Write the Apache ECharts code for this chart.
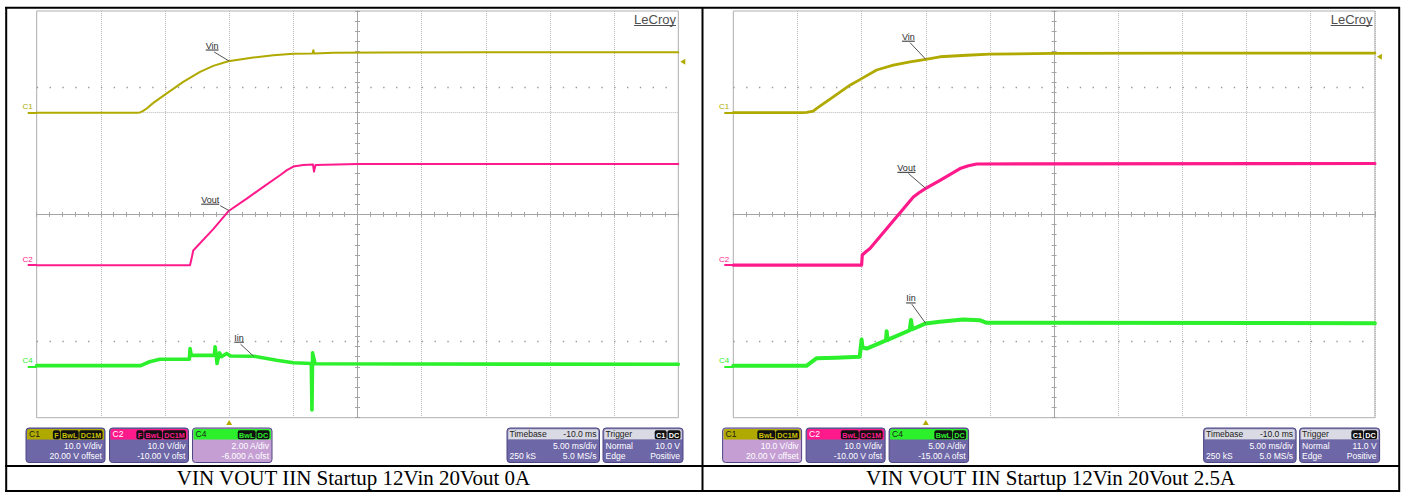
<!DOCTYPE html>
<html>
<head>
<meta charset="utf-8">
<title>VIN VOUT IIN Startup</title>
<script src="https://cdn.jsdelivr.net/npm/echarts@6.0.0/dist/echarts.min.js"></script>
<style>
html,body{margin:0;padding:0;background:#ffffff;}
#chart{width:1405px;height:493px;}
</style>
</head>
<body>
<div id="chart"></div>
<script>
// ================= DATA (read from the two scope captures) =================
// Time axis: delay -10 ms, 5 ms/div, 10 divisions -> -15 .. 35 ms
const timeMin = -15;
const timeMax = 35;
const timeDiv = 5;

const channelNames = ['C1', 'C2', 'C4'];
const traceNames = ['Vin', 'Vout', 'Iin'];

// ---- Capture A: 12Vin 20Vout 0A  ([time ms, value]) ----
const vinA = [[-15,0],[-7.2,0],[-6.95,0.05],[-6.7,0.35],[-6.43,0.83],[-5.91,1.93],[-5.06,3.45],[-3.58,6.06],[-2.27,8.03],[-1.24,9.2],[-0.07,10.13],[1.88,10.86],[3.44,11.31],[5.0,11.57],[6.5,11.65],[6.56,12.3],[6.62,11.65],[8.11,11.77],[12,11.85],[20,11.9],[35,11.9]];
const voutA = [[-15,0],[-3.05,0],[-2.94,1.2],[-2.8,2.9],[-1.24,7.1],[-0.07,10.6],[1.37,13.1],[2.66,15.4],[3.96,17.7],[4.5,18.7],[5.0,19.4],[5.78,19.7],[6.53,19.8],[6.61,18.4],[6.73,19.7],[10,19.9],[35,19.9]];
const iinA = [[-15,0.05],[-6.9,0.05],[-6.2,0.2],[-5.4,0.3],[-3.1,0.3],[-3.05,0.72],[-2.95,0.45],[-1.15,0.45],[-1.1,0.79],[-1.0,0.45],[-0.95,0.13],[-0.75,0.55],[-0.6,0.4],[-0.2,0.53],[0.1,0.43],[1.9,0.42],[3.7,0.26],[5.0,0.16],[6.4,0.13],[6.45,-1.7],[6.5,0.55],[6.7,0.12],[35,0.1]];

// ---- Capture B: 12Vin 20Vout 2.5A ----
const vinB = [[-15,0],[-9.6,0],[-9.28,0.05],[-8.77,0.3],[-8.5,0.83],[-7.21,3.1],[-5.91,5.4],[-5.0,6.7],[-3.83,8.4],[-2.53,9.35],[-1.23,10.0],[0,10.5],[1.11,11.0],[3.19,11.3],[5,11.5],[10,11.65],[20,11.7],[35,11.7]];
const voutB = [[-15,0],[-5.0,0],[-4.95,2.0],[-4.6,2.8],[-4.35,3.3],[-0.97,13.4],[-0.5,14.3],[0,15.1],[1.11,16.7],[2.67,19.0],[3.32,19.55],[3.97,19.9],[35,20.0]];
const iinB = [[-15,0.1],[-9.3,0.1],[-8.5,0.85],[-7,0.9],[-5.15,1.0],[-5.0,2.7],[-4.93,1.9],[-4.6,1.8],[-3.1,2.6],[-3.05,3.5],[-2.98,2.65],[-1.25,3.6],[-1.15,4.6],[-1.05,3.7],[0,4.27],[1.1,4.43],[2.9,4.66],[4.2,4.59],[4.75,4.33],[35,4.3]];

// channel settings (units/div, offset)
const perDivA = [10, 10, 2];
const offsetA = [20, -10, -6];
const perDivB = [10, 10, 5];
const offsetB = [20, -10, -15];
const triggerLevelA = 10;
const triggerLevelB = 11;

// label anchor times (ms) for Vin / Vout / Iin call-outs
const labelTimesA = [0, 0, 1.9];
const labelTimesB = [0, 0, 0];

// info-box texts
const chanLine1A = ['10.0 V/div', '10.0 V/div', '2.00 A/div'];
const chanLine2A = ['20.00 V offset', '-10.00 V ofst', '-6.000 A ofst'];
const chanLine1B = ['10.0 V/div', '10.0 V/div', '5.00 A/div'];
const chanLine2B = ['20.00 V offset', '-10.00 V ofst', '-15.00 A ofst'];
const badgesA = [['F', 'BwL', 'DC1M'], ['F', 'BwL', 'DC1M'], ['BwL', 'DC']];
const badgesB = [['BwL', 'DC1M'], ['BwL', 'DC1M'], ['BwL', 'DC']];
const timebaseTexts = ['Timebase', '-10.0 ms', '5.00 ms/div', '250 kS', '5.0 MS/s'];
const triggerTextsA = ['Trigger', 'Normal', '10.0 V', 'Edge', 'Positive'];
const triggerTextsB = ['Trigger', 'Normal', '11.0 V', 'Edge', 'Positive'];
const triggerBadges = ['C1', 'DC'];
const logoText = 'LeCroy';
const captionA = 'VIN VOUT IIN Startup 12Vin 20Vout 0A';
const captionB = 'VIN VOUT IIN Startup 12Vin 20Vout 2.5A';

// ================= STYLE / LAYOUT =================
const GRID_TOP = 11, GRID_H = 406.7, GRID_W = 641.6;
const PANEL_LEFT = [36.7, 733.3];
const PANEL_DX = [0, 696.6];
const CAPTION_CX = [353.5, 1050.5];
const TRACE_COLORS = ['#b0aa00', '#ff1a8c', '#2cf02c'];
const TRACE_WIDTHS = [[2, 2, 3.6], [2.8, 3.2, 4]];
const GRID_COLOR = '#b9b9b9';
const CENTER_COLOR = '#a4a4a4';
const SANS = '"Liberation Sans", Arial, sans-serif';
const LABEL_TEXT_OFF = [[[-17,-15.5],[-19,-11],[-14.5,-18.5]], [[-17.4,-22.6],[-19.4,-20.6],[-14.9,-25]]];
const LABEL_LEAD_OFF = [[[-15,-9],[-9,-5],[-13,-12]], [[-15.7,-16.6],[-17.4,-15],[-14,-19.3]]];

const captures = [
  {traces:[vinA, voutA, iinA], perDiv:perDivA, offset:offsetA, trig:triggerLevelA, labelTimes:labelTimesA,
   caption:captionA, line1:chanLine1A, line2:chanLine2A, badges:badgesA, selected:2, trigTexts:triggerTextsA},
  {traces:[vinB, voutB, iinB], perDiv:perDivB, offset:offsetB, trig:triggerLevelB, labelTimes:labelTimesB,
   caption:captionB, line1:chanLine1B, line2:chanLine2B, badges:badgesB, selected:0, trigTexts:triggerTextsB}
];

function centerAxis(g, otherIdx, inside, isX) {
  return {
    type:'value', gridIndex:g, position: isX ? 'bottom' : 'left',
    min: isX ? -5 : -4, max: isX ? 5 : 4, interval: 1, silent: true,
    axisLine:{show:true, onZero:true, onZeroAxisIndex:otherIdx, lineStyle:{color:CENTER_COLOR, width:1}},
    axisTick:{show:true, inside:inside, length:2.5, lineStyle:{color:CENTER_COLOR, width:1}},
    minorTick:{show:true, splitNumber:5, length:2.5, lineStyle:{color:CENTER_COLOR, width:1}},
    axisLabel:{show:false}, splitLine:{show:false}, minorSplitLine:{show:false}
  };
}

const option = {animation:false, backgroundColor:'#ffffff', grid:[], xAxis:[], yAxis:[], series:[]};

captures.forEach((cap, g) => {
  option.grid.push({left:PANEL_LEFT[g], top:GRID_TOP, width:GRID_W, height:GRID_H, show:true,
    borderColor:'#b0b0b0', borderWidth:1, backgroundColor:'#ffffff', containLabel:false, outerBoundsMode:'none'});
  const xi = option.xAxis.length, yi = option.yAxis.length;
  option.xAxis.push({type:'value', gridIndex:g, position:'bottom', min:timeMin, max:timeMax, interval:timeDiv,
    axisLine:{show:false, onZero:false}, axisTick:{show:false}, axisLabel:{show:false},
    splitLine:{show:true, lineStyle:{color:GRID_COLOR, type:'dotted', width:1}}});
  option.xAxis.push(centerAxis(g, yi + 3, true, true));
  option.xAxis.push(centerAxis(g, yi + 3, false, true));
  cap.perDiv.forEach((s, k) => {
    const center = -cap.offset[k];
    option.yAxis.push({type:'value', gridIndex:g, position:'left', min:center - 4 * s, max:center + 4 * s, interval:s,
      axisLine:{show:false, onZero:false},
      axisTick:{show:true, customValues:[0], length:9, lineStyle:{color:TRACE_COLORS[k], width:2}},
      axisLabel:{show:true, customValues:[0], formatter:() => channelNames[k], color:TRACE_COLORS[k],
        fontSize:8, fontFamily:SANS, margin:4, verticalAlign:'bottom', padding:[0,0,2,0]},
      splitLine:{show:k === 0, lineStyle:{color:GRID_COLOR, type:'dotted', width:1}}});
  });
  option.yAxis.push(centerAxis(g, xi + 1, true, false));
  option.yAxis.push(centerAxis(g, xi + 1, false, false));

  cap.traces.forEach((d, k) => {
    const s = {
      type:'line', name:traceNames[k], xAxisIndex:xi, yAxisIndex:yi + k, data:d,
      showSymbol:false, symbol:'none', z:3 + k, silent:true,
      lineStyle:{color:TRACE_COLORS[k], width:TRACE_WIDTHS[g][k], join:'round', cap:'round'}, itemStyle:{color:TRACE_COLORS[k]}
    };
    if (k === 0) {
      const s0 = cap.perDiv[0], c0 = -cap.offset[0];
      s.markLine = {silent:true, symbol:['none','none'], label:{show:false}, animation:false,
        lineStyle:{color:'#9a9a9a', width:1.4, type:[1.4, GRID_W / 50 - 1.4]},
        data:[{yAxis:c0 + 2.5 * s0}, {yAxis:c0 - 2.5 * s0}]};
      s.markPoint = {silent:true, animation:false, label:{show:false}, itemStyle:{color:TRACE_COLORS[0]},
        data:[
          {coord:[timeMax, cap.trig], symbol:'triangle', symbolRotate:90, symbolSize:[6,5], symbolOffset:[4.5,0]},
          {coord:[0, c0 - 4 * s0], symbol:'triangle', symbolSize:[6,5], symbolOffset:[0,4.8]}
        ]};
    }
    option.series.push(s);
  });
});

const chart = echarts.init(document.getElementById('chart'), null, {renderer:'svg', width:1405, height:493});
chart.setOption(option);

// ================= decorations (table, info boxes, call-outs) =================
const mctx = document.createElement('canvas').getContext('2d');
function measure(text, font) { mctx.font = font; return mctx.measureText(text).width; }
function interp(d, t) {
  for (let i = 1; i < d.length; i++) {
    if (t <= d[i][0]) { const a = d[i-1], b = d[i]; return a[1] + (b[1] - a[1]) * (t - a[0]) / (b[0] - a[0]); }
  }
  return d[d.length - 1][1];
}
const gfx = [];
function line(x1, y1, x2, y2, stroke, w, z) {
  gfx.push({type:'line', silent:true, z:z || 20, shape:{x1, y1, x2, y2}, style:{stroke, lineWidth:w}});
}
function text(x, y, t, fill, align, font, sx, extra) {
  const el = {type:'text', silent:true, z:30, x, y, scaleX:sx || 1,
    style:Object.assign({text:t, fill, font, textAlign:align, textVerticalAlign:'middle'}, extra || {})};
  gfx.push(el);
}
const BOX_FONT = '9.5px ' + SANS;
function badgeText(x, y, list, fg) {
  const rich = {b:{fill:fg, backgroundColor:'#111111', borderRadius:2, padding:[1,1.5,0,1.5], font:'bold 8px ' + SANS},
                g:{font:'3px ' + SANS}};
  text(x, y, list.map(b => '{b|' + b + '}').join('{g| }'), fg, 'right', '8px ' + SANS, 0.9, {rich});
}
const BODY = '#6e67a7', BODY_SEL = '#c59fd4', BOX_STROKE = '#4c4684';
const BOX_Y = 428, BOX_H = 34.5, HDR_H = 10.5;
function chanBox(x, w, k, cap, g) {
  const sel = cap.selected === k;
  gfx.push({type:'rect', silent:true, z:10, shape:{x, y:BOX_Y, width:w, height:BOX_H, r:3}, style:{fill:sel ? BODY_SEL : BODY, stroke:BOX_STROKE, lineWidth:1}});
  gfx.push({type:'rect', silent:true, z:11, shape:{x:x + 1, y:BOX_Y + 1, width:w - 2, height:HDR_H, r:[2,2,0,0]}, style:{fill:TRACE_COLORS[k]}});
  const hy = BOX_Y + 1 + HDR_H / 2;
  text(x + 3, hy, channelNames[k], k === 1 ? '#ffffff' : '#1c1c1c', 'left', BOX_FONT, 0.9);
  badgeText(x + w - 2.5, hy + 0.5, cap.badges[k], k === 0 ? '#c8c000' : TRACE_COLORS[k]);
  text(x + w - 3, 446, cap.line1[k], '#ffffff', 'right', BOX_FONT, 0.9);
  text(x + w - 3, 456.3, cap.line2[k], '#ffffff', 'right', BOX_FONT, 0.9);
}
function infoBox(x, w, hdrLeft, hdrRightText, hdrBadges, rows) {
  gfx.push({type:'rect', silent:true, z:10, shape:{x, y:BOX_Y, width:w, height:BOX_H, r:3}, style:{fill:BODY, stroke:BOX_STROKE, lineWidth:1}});
  gfx.push({type:'rect', silent:true, z:11, shape:{x:x + 1, y:BOX_Y + 1, width:w - 2, height:HDR_H, r:[2,2,0,0]}, style:{fill:'#dadae4', stroke:'#8884b0', lineWidth:0.6}});
  const hy = BOX_Y + 1 + HDR_H / 2;
  text(x + 2.5, hy, hdrLeft, '#1c1c1c', 'left', BOX_FONT, 0.9);
  if (hdrRightText) text(x + w - 3, hy, hdrRightText, '#1c1c1c', 'right', BOX_FONT, 0.9);
  if (hdrBadges) badgeText(x + w - 2.5, hy + 0.5, hdrBadges, '#ffffff');
  rows.forEach((r, i) => {
    const y = i === 0 ? 446 : 456.3;
    if (r[0]) text(x + 2.5, y, r[0], '#ffffff', 'left', BOX_FONT, 0.9);
    if (r[1]) text(x + w - 3, y, r[1], '#ffffff', 'right', BOX_FONT, 0.9);
  });
}

// table frame
line(5, 7.8, 1400, 7.8, '#000', 2);
line(5, 491, 1400, 491, '#000', 2);
line(6.2, 7, 6.2, 492, '#000', 2);
line(1399.2, 7, 1399.2, 492, '#000', 2);
line(702.5, 7, 702.5, 492, '#000', 2);
line(5, 466, 1400, 466, '#000', 2);

const LABEL_FONT = '9px ' + SANS;
captures.forEach((cap, g) => {
  const dx = PANEL_DX[g];
  // caption
  text(CAPTION_CX[g], 478, cap.caption, '#000000', 'center', '21px "Liberation Serif", "Times New Roman", serif');
  // logo
  const logoFont = '13px ' + SANS;
  const lw = measure(logoText, logoFont);
  text(676 + dx, 19, logoText, '#4f4f4f', 'right', logoFont);
  line(676 + dx - lw, 25.5, 676 + dx, 25.5, '#4f4f4f', 1);
  // channel boxes
  chanBox(26 + dx, 79, 0, cap, g);
  chanBox(109.5 + dx, 79, 1, cap, g);
  chanBox(192.5 + dx, 79.5, 2, cap, g);
  infoBox(507 + dx, 92.5, timebaseTexts[0], timebaseTexts[1], null,
    [['', timebaseTexts[2]], [timebaseTexts[3], timebaseTexts[4]]]);
  infoBox(603 + dx, 80, cap.trigTexts[0], null, triggerBadges,
    [[cap.trigTexts[1], cap.trigTexts[2]], [cap.trigTexts[3], cap.trigTexts[4]]]);
  // call-outs
  cap.labelTimes.forEach((t, k) => {
    const v = interp(cap.traces[k], t);
    const p = chart.convertToPixel({seriesIndex:g * 3 + k}, [t, v]);
    const to = LABEL_TEXT_OFF[g][k], lo = LABEL_LEAD_OFF[g][k];
    const tx = p[0] + to[0], ty = p[1] + to[1];
    const w = measure(traceNames[k], LABEL_FONT);
    text(tx, ty, traceNames[k], '#2a2a2a', 'center', LABEL_FONT);
    line(tx - w / 2, ty + 4.5, tx + w / 2, ty + 4.5, '#2a2a2a', 1, 25);
    line(p[0] + lo[0], p[1] + lo[1], p[0], p[1], '#555555', 1, 25);
  });
});

chart.setOption({graphic:{elements:gfx}});
</script>
</body>
</html>
